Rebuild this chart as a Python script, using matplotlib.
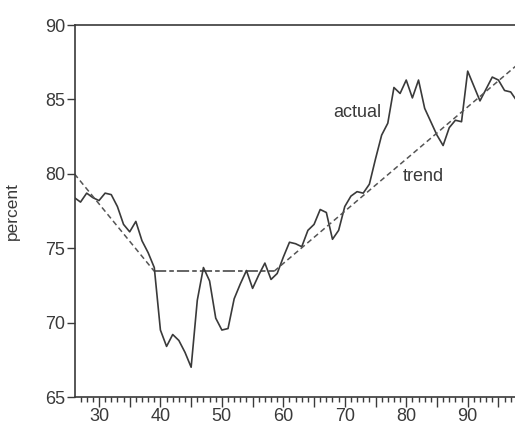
import numpy as np
import matplotlib
matplotlib.use("Agg")
import matplotlib.pyplot as plt
from matplotlib.ticker import MultipleLocator, FuncFormatter

plt.rcParams["font.family"] = ["Liberation Sans", "DejaVu Sans"]

# ── Data ──────────────────────────────────────────────────────────────────────
years = list(range(26, 99))
actual = [
    78.4, 78.1, 78.7, 78.4, 78.2, 78.7, 78.6, 77.8, 76.6, 76.1,   # 26-35
    76.8, 75.5, 74.7, 73.7, 69.5, 68.4, 69.2, 68.8, 68.0, 67.0,   # 36-45
    71.5, 73.7, 72.8, 70.3, 69.5, 69.6, 71.6, 72.6, 73.5, 72.3,   # 46-55
    73.2, 74.0, 72.9, 73.3, 74.4, 75.4, 75.3, 75.1, 76.2, 76.6,   # 56-65
    77.6, 77.4, 75.6, 76.2, 77.8, 78.5, 78.8, 78.7, 79.3, 81.0,   # 66-75
    82.6, 83.4, 85.8, 85.4, 86.3, 85.1, 86.3, 84.4, 83.5, 82.6,   # 76-85
    81.9, 83.1, 83.6, 83.5, 86.9, 85.9, 84.9, 85.7, 86.5, 86.3,   # 86-95
    85.6, 85.5, 84.9,                                             # 96-98
]
trend_down_x = [26.0, 39.0]
trend_down_y = [80.0, 73.45]
trend_flat_x = [39.0, 58.5]
trend_flat_y = [73.45, 73.45]
trend_up_x = [58.5, 98.0]
trend_up_y = [73.45, 87.3]

INK = "#3a3a3a"
GREY = "#555555"

fig = plt.figure(figsize=(5.15, 4.25), dpi=100)
ax = fig.add_axes([75 / 515, 28 / 425, 440 / 515, 372 / 425])

ax.plot(years, actual, color=INK, lw=1.2)
ax.plot(trend_down_x, trend_down_y, color=GREY, lw=1.1, dashes=(3.5, 2.2))
ax.plot(trend_flat_x, trend_flat_y, color=INK, lw=1.1, dashes=(8, 2, 3, 2))
ax.plot(trend_up_x, trend_up_y, color=GREY, lw=1.1, dashes=(3.5, 2.2))

ax.text(72.1, 84.1, "actual", fontsize=13, color=INK, ha="center", va="center")
ax.text(82.85, 79.8, "trend", fontsize=13, color=INK, ha="center", va="center")

ax.set_xlim(26.1, 97.7)
ax.set_ylim(65, 90)

# axis styling
for s in ["left", "bottom", "top"]:
    ax.spines[s].set_color(INK)
    ax.spines[s].set_linewidth(1.2)
ax.spines["right"].set_visible(False)

ax.xaxis.set_major_locator(MultipleLocator(5))
ax.xaxis.set_minor_locator(MultipleLocator(1))
ax.xaxis.set_major_formatter(FuncFormatter(lambda v, p: f"{v:.0f}" if v % 10 == 0 else ""))
ax.yaxis.set_major_locator(MultipleLocator(5))
ax.tick_params(axis="x", which="major", direction="out", length=7, width=1.0,
               color=INK, labelsize=13, labelcolor=INK, pad=1)
ax.tick_params(axis="x", which="minor", direction="out", length=3.5, width=1.0, color=INK)
ax.tick_params(axis="y", which="major", direction="out", length=6, width=1.0,
               color=INK, labelsize=13, labelcolor=INK, pad=1)
ax.tick_params(top=False, right=False)

ax.set_ylabel("percent", fontsize=12.5, color=INK)
ax.yaxis.set_label_coords(-0.125, 0.5)

fig.savefig("out.png", dpi=100)
